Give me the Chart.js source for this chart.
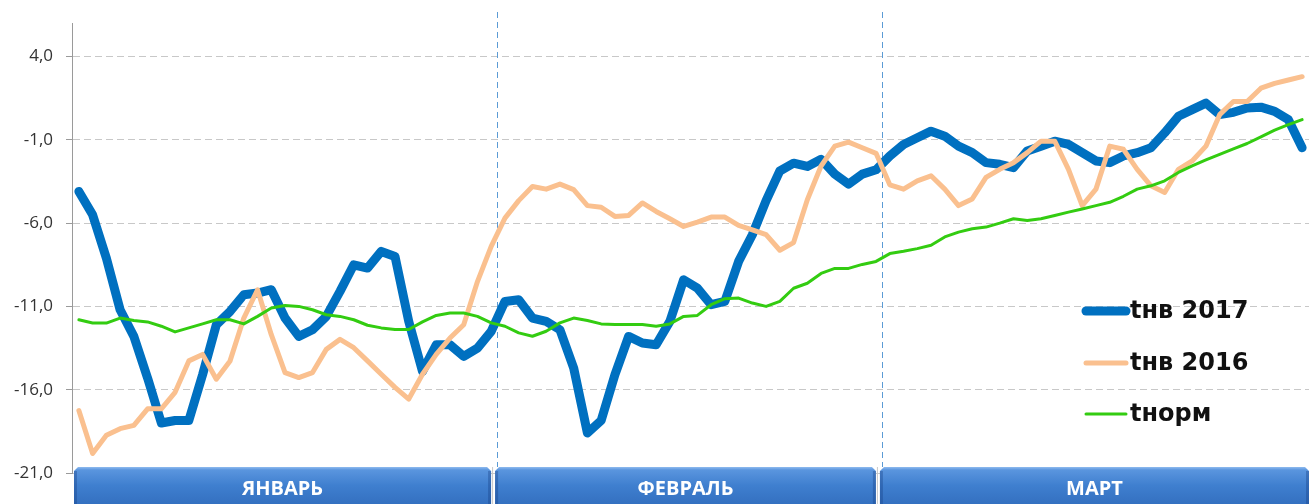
<!DOCTYPE html>
<html>
<head>
<meta charset="utf-8">
<script src="https://cdn.jsdelivr.net/npm/chart.js@4.4.1/dist/chart.umd.min.js"></script>
<style>
  html, body { margin: 0; padding: 0; background: #fff; }
  #wrap { width: 1309px; height: 504px; position: relative; }
</style>
</head>
<body>
<div id="wrap"><canvas id="chart"></canvas></div>
<script>
// month blocks along the bottom
const months = ["ЯНВАРЬ", "ФЕВРАЛЬ", "МАРТ"];
const monthDays = [31, 28, 31];

// y ticks shown on the axis
const yTicks = [-21, -16, -11, -6, -1, 4];

// tнв 2017
const t2017 = [
  -4.1, -5.5, -8.1, -11.2, -12.8, -15.3, -18.0, -17.85, -17.85, -15.1, -12.1, -11.3, -10.3, -10.2, -10.0, -11.7,
  -12.8, -12.4, -11.6, -10.1, -8.5, -8.7, -7.7, -8.0, -11.9, -14.9, -13.3, -13.3, -14.0, -13.5, -12.5,
  -10.7, -10.6, -11.7, -11.9, -12.4, -14.7, -18.6, -17.85, -15.1, -12.8, -13.2, -13.3, -11.9, -9.4,
  -9.9, -10.9, -10.7, -8.3, -6.7, -4.65, -2.87, -2.4, -2.6, -2.17, -3.06, -3.66, -3.06, -2.8,
  -1.97, -1.28, -0.88, -0.48, -0.78, -1.38, -1.77, -2.37, -2.47, -2.67, -1.67, -1.38, -1.08, -1.28, -1.77,
  -2.27, -2.37, -1.97, -1.77, -1.48, -0.58, 0.41, 0.81, 1.2, 0.51, 0.65, 0.91, 0.96, 0.71, 0.21, -1.48
];

// tнв 2016
const t2016 = [
  -17.25, -19.83, -18.74, -18.34, -18.14, -17.15, -17.15, -16.16, -14.27, -13.88, -15.37, -14.27, -11.7, -10.0,
  -12.7, -14.97, -15.27, -14.97, -13.58, -12.98, -13.48, -14.27, -15.07, -15.86, -16.56, -15.07, -13.88, -12.9,
  -12.1, -9.51, -7.4,
  -5.7, -4.65, -3.8, -3.96, -3.66, -3.99, -4.95, -5.05, -5.6, -5.54, -4.79, -5.3, -5.74, -6.2,
  -5.94, -5.64, -5.64, -6.14, -6.4, -6.69, -7.63, -7.17, -4.6, -2.57, -1.38, -1.14, -1.48, -1.81,
  -3.7, -3.96, -3.46, -3.16, -3.96, -4.95, -4.55, -3.26, -2.77, -2.37, -1.77, -1.08, -1.08, -2.77, -4.95,
  -3.96, -1.38, -1.57, -2.77, -3.76, -4.16, -2.77, -2.27, -1.38, 0.51, 1.3, 1.3, 2.1, 2.39, 2.59, 2.79
];

// tнорм
const tNorm = [
  -11.8, -12.0, -12.0, -11.7, -11.85, -11.93, -12.19, -12.53, -12.29, -12.05, -11.8, -11.8, -12.05, -11.6,
  -11.1, -10.94, -11.0, -11.2, -11.5, -11.6, -11.8, -12.13, -12.29, -12.39, -12.39, -11.93, -11.54, -11.4,
  -11.4, -11.6, -11.99,
  -12.19, -12.59, -12.79, -12.49, -11.99, -11.7, -11.85, -12.05, -12.09, -12.09, -12.09, -12.19, -12.05, -11.6,
  -11.54, -10.9, -10.54, -10.5, -10.8, -11.0, -10.7, -9.91, -9.61, -9.02, -8.72, -8.72, -8.48, -8.3,
  -7.83, -7.69, -7.53, -7.33, -6.83, -6.54, -6.34, -6.24, -6.0, -5.74, -5.84, -5.74, -5.54, -5.34, -5.15,
  -4.95, -4.75, -4.39, -3.96, -3.76, -3.46, -2.96, -2.57, -2.21, -1.87, -1.54, -1.22, -0.82, -0.42, -0.09, 0.21
];

const seriesNames = ["tнв 2017", "tнв 2016", "tнорм"];

// day labels for the category axis
const days = [];
monthDays.forEach(n => { for (let d = 1; d <= n; d++) days.push(String(d)); });

const colors = ["#0070c0", "#fac08f", "#33cc11"];
const widths = [9, 5, 3];

// month boundaries (category index where each month starts)
const starts = [];
let acc = 0;
monthDays.forEach(n => { starts.push(acc); acc += n; });

function edgePx(x, idx) {
  if (idx <= 0) return x.left;
  if (idx >= days.length) return x.right;
  return (x.getPixelForValue(idx - 1) + x.getPixelForValue(idx)) / 2;
}

const monthPlugin = {
  id: "months",
  beforeDatasetsDraw(chart) {
    const { ctx } = chart;
    const x = chart.scales.x;
    ctx.save();
    ctx.strokeStyle = "#5b9bd5";
    ctx.lineWidth = 1;
    ctx.setLineDash([6, 4]);
    for (let m = 1; m < starts.length; m++) {
      const px = Math.round(edgePx(x, starts[m])) - 0.5;
      ctx.beginPath();
      ctx.moveTo(px, 12);
      ctx.lineTo(px, chart.chartArea.bottom - 6);
      ctx.stroke();
    }
    ctx.restore();
  },
  afterDraw(chart) {
    const { ctx, chartArea } = chart;
    const x = chart.scales.x;
    const top = chartArea.bottom - 6;
    const bottom = chart.height;
    ctx.save();
    months.forEach((name, m) => {
      const l = m === 0 ? chartArea.left + 2 : edgePx(x, starts[m]) - 3;
      const r = m === months.length - 1 ? chart.width : edgePx(x, starts[m] + monthDays[m]) - 7;
      const g = ctx.createLinearGradient(0, top, 0, bottom);
      g.addColorStop(0, "#8fbbef");
      g.addColorStop(0.08, "#5a95de");
      g.addColorStop(0.5, "#3f7fcf");
      g.addColorStop(1, "#3470c0");
      ctx.fillStyle = g;
      ctx.beginPath();
      ctx.moveTo(l, top + 4);
      ctx.lineTo(l + 4, top);
      ctx.lineTo(r - 4, top);
      ctx.lineTo(r, top + 4);
      ctx.lineTo(r, bottom);
      ctx.lineTo(l, bottom);
      ctx.closePath();
      ctx.fill();
      // darker bevel on the sides
      ctx.fillStyle = "rgba(20,60,130,0.35)";
      ctx.fillRect(l, top + 4, 3, bottom - top);
      ctx.fillRect(r - 3, top + 4, 3, bottom - top);
      if (m > 0) {
        ctx.fillStyle = "#c8c8c8";
        ctx.fillRect(l - 3, top, 1, bottom - top);
      }
      ctx.fillStyle = "#ffffff";
      ctx.font = "bold 20px 'Open Sans'";
      ctx.textAlign = "center";
      ctx.textBaseline = "middle";
      ctx.fillText(name, (l + r) / 2, 489);
    });

    // legend inside the plot
    const rows = [311, 363, 414];
    seriesNames.forEach((name, i) => {
      ctx.strokeStyle = colors[i];
      ctx.lineWidth = widths[i];
      ctx.lineCap = "round";
      ctx.beginPath();
      ctx.moveTo(1086, rows[i]);
      ctx.lineTo(1126, rows[i]);
      ctx.stroke();
      ctx.fillStyle = "#111";
      ctx.font = "bold 24px 'DejaVu Sans'";
      ctx.textAlign = "left";
      ctx.textBaseline = "middle";
      ctx.fillText(name, 1130, rows[i] + 1);
    });
    ctx.restore();
  }
};

new Chart(document.getElementById("chart"), {
  type: "line",
  data: {
    labels: days,
    datasets: [t2017, t2016, tNorm].map((d, i) => ({
      label: seriesNames[i],
      data: d,
      borderColor: colors[i],
      borderWidth: widths[i],
      borderCapStyle: "round",
      borderJoinStyle: "round",
      pointRadius: 0,
      tension: 0,
      fill: false,
      order: 3 - i
    }))
  },
  options: {
    responsive: true,
    maintainAspectRatio: false,
    animation: false,
    layout: { padding: { top: 19, bottom: 31, left: 0, right: 0 } },
    plugins: { legend: { display: false }, tooltip: { enabled: false } },
    scales: {
      x: { type: "category", offset: true, display: false },
      y: {
        min: -21,
        max: 6,
        afterFit(s) { s.width = 72; },
        afterBuildTicks(s) { s.ticks = yTicks.map(v => ({ value: v })); },
        ticks: {
          padding: 13,
          color: "#333333",
          font: { family: "'Open Sans'", size: 17 },
          callback: v => v.toFixed(1).replace(".", ",")
        },
        grid: { color: "#c8c8c8", tickColor: "#9a9a9a", tickLength: 6, lineWidth: 1 },
        border: { display: true, color: "#9a9a9a", width: 1, dash: [7, 4] }
      }
    }
  },
  plugins: [monthPlugin]
});
</script>
</body>
</html>
